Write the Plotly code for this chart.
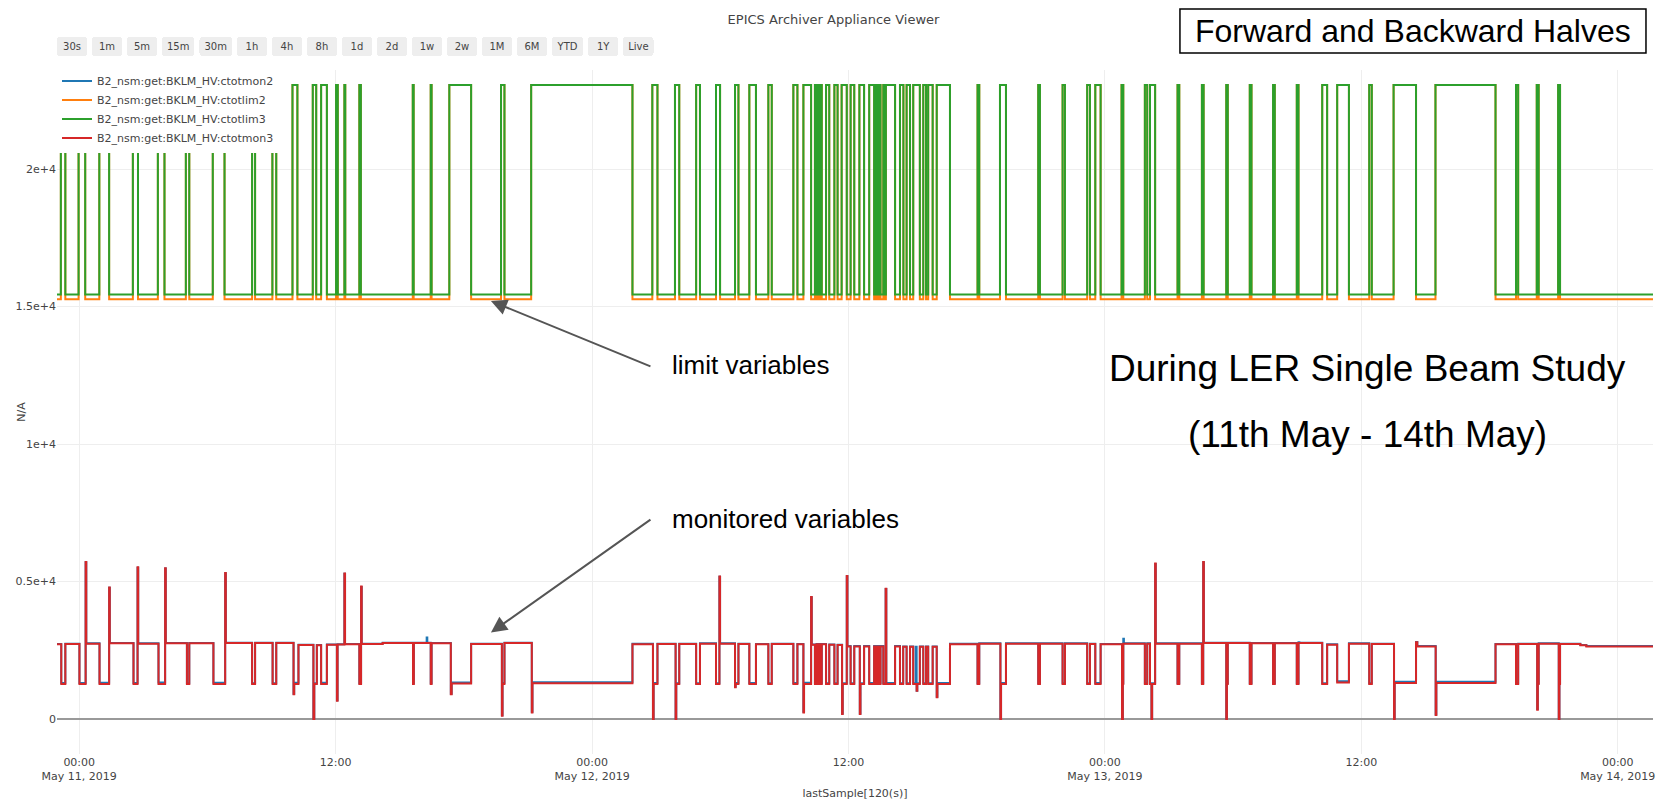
import pandas as pd
import plotly.graph_objects as go

BASE = pd.Timestamp("2019-05-11 00:00:00")

# ---------------- data (hours since 2019-05-11 00:00) ----------------
# limit variables: pulses (start, end, top value)
LIM_START = [-0.86, -0.03, 0.94, 2.51, 3.68, 4.99, 6.25, 8.09, 9.04,
             9.98, 10.93, 11.32, 12.02, 12.41, 13.11, 15.61, 16.45, 17.32, 19.74, 21.15,
             26.82, 27.88, 28.87, 29.80, 30.69, 31.36, 32.25, 33.42, 33.89, 34.43,
             34.56, 34.67, 34.95, 35.34, 35.68, 36.10, 36.51, 36.97, 37.24, 37.35,
             37.46, 37.63, 37.75, 38.41, 38.72, 39.03, 39.50, 39.73, 40.13, 42.04,
             43.09, 44.88, 46.02, 47.17, 47.55, 48.78, 49.87, 50.11, 51.40, 52.54,
             53.68, 54.78, 55.87, 56.98, 58.17, 58.87, 60.37, 61.51, 63.47, 67.24,
             68.21, 69.21]
LIM_END = [-0.65, 0.28, 1.40, 2.75, 3.99, 5.15, 6.80, 8.23, 9.22,
           10.21, 11.09, 11.59, 12.10, 12.45, 13.18, 15.65, 16.49, 18.34, 19.90, 25.89,
           27.06, 28.08, 29.05, 29.99, 30.85, 31.67, 32.41, 33.61, 34.25, 34.51,
           34.63, 34.75, 35.10, 35.49, 35.92, 36.27, 36.73, 37.20, 37.28, 37.39,
           37.50, 37.71, 38.18, 38.57, 38.88, 39.34, 39.63, 39.94, 40.75, 42.12,
           43.37, 44.96, 46.13, 47.30, 47.80, 48.86, 49.98, 50.35, 51.48, 52.62,
           53.75, 54.86, 55.95, 57.06, 58.40, 59.42, 60.49, 62.56, 66.28, 67.34,
           68.30, 69.30]
LIM_TOP = [20760] * 9 + [23050] * 63
LIM3_LOW = 15435
LIM2_LOW = 15265

# monitored variables: step points
MON_T = [-1.04, -0.84, -0.65, 0.01, 0.30, 0.33, 0.95, 1.40, 1.43, 2.54,
         2.73, 2.76, 3.71, 4.02, 4.05, 5.04, 5.15, 6.28, 6.83, 6.86,
         8.09, 8.23, 9.05, 9.22, 10.03, 10.06, 10.26, 10.96, 11.00, 11.12,
         11.32, 11.59, 12.06, 12.09, 12.41, 12.44, 13.11, 13.19, 13.22, 14.20,
         15.62, 15.66, 16.26, 16.29, 16.45, 16.49, 17.39, 17.43, 18.34, 19.78,
         19.81, 19.90, 21.18, 21.21, 25.89, 26.85, 26.88, 27.06, 27.91, 27.94,
         28.08, 28.87, 29.05, 29.80, 29.96, 29.99, 30.69, 30.72, 30.85, 31.36,
         31.67, 32.25, 32.41, 33.42, 33.61, 33.89, 33.92, 34.25, 34.28, 34.43,
         34.51, 34.56, 34.63, 34.67, 34.75, 34.95, 35.10, 35.34, 35.49, 35.70,
         35.73, 35.92, 35.95, 36.10, 36.27, 36.53, 36.56, 36.73, 36.97, 37.20,
         37.24, 37.28, 37.35, 37.39, 37.46, 37.50, 37.63, 37.74, 37.77, 38.18,
         38.41, 38.56, 38.72, 38.88, 39.03, 39.15, 39.19, 39.22, 39.34, 39.50,
         39.63, 39.73, 39.94, 40.13, 40.16, 40.75, 42.04, 42.12, 43.11, 43.14,
         43.37, 44.88, 44.96, 46.02, 46.13, 47.17, 47.30, 47.55, 47.80, 48.80,
         48.84, 48.86, 48.89, 49.87, 49.98, 50.11, 50.18, 50.21, 50.35, 50.38,
         51.40, 51.48, 52.54, 52.60, 52.63, 53.68, 53.71, 53.75, 54.78, 54.86,
         55.87, 55.95, 56.98, 57.06, 57.10, 58.17, 58.40, 58.87, 59.42, 60.37,
         60.49, 61.53, 61.56, 62.56, 62.62, 63.48, 63.51, 66.28, 67.24, 67.34,
         68.23, 68.26, 68.30, 69.24, 69.27, 69.30, 70.00, 70.25, 70.53, 73.65]
MON3_V = [2720, 1270, 2730, 1270, 5710, 2740, 1270, 4780, 2750, 1270,
          5520, 2740, 1270, 5480, 2750, 1270, 2750, 1270, 5310, 2760,
          1270, 2760, 1270, 2760, 900, 1270, 2690, 0, 1270, 2680,
          1270, 2700, 660, 2710, 5290, 2720, 1270, 4820, 2730, 2760,
          1270, 2760, 2760, 2760, 1270, 2750, 900, 1290, 2730, 120,
          1270, 2760, 240, 1300, 2720, 0, 1270, 2730, 0, 1270,
          2730, 1270, 2740, 1270, 5180, 2740, 1150, 1270, 2730, 1270,
          2720, 1270, 2730, 1270, 2720, 240, 1270, 4440, 2700, 1270,
          2720, 1270, 2720, 1270, 2720, 1270, 2700, 1270, 2690, 180,
          1270, 5200, 2640, 1270, 2640, 180, 1270, 2640, 1270, 2640,
          1270, 2640, 1270, 2640, 1270, 2640, 1270, 4740, 1270, 2640,
          1270, 2630, 1270, 2630, 1270, 1270, 1030, 1270, 2630, 1270,
          2630, 1270, 2630, 790, 1270, 2720, 1270, 2740, 0, 1270,
          2740, 1270, 2740, 1270, 2740, 1270, 2730, 1270, 2720, 0,
          1270, 2740, 2740, 1270, 2740, 1270, 0, 1270, 5650, 2740,
          1270, 2740, 1270, 5710, 2760, 0, 1270, 2760, 1270, 2750,
          1270, 2750, 1270, 2760, 2760, 1270, 2700, 1330, 2740, 1270,
          2730, 0, 1310, 2790, 2640, 145, 1310, 2720, 1270, 2730,
          340, 1270, 2740, 0, 1270, 2730, 2730, 2680, 2640, 2640]
MON2_V = [2730, 1310, 2740, 1310, 5700, 2750, 1320, 4770, 2760, 1310,
          5500, 2750, 1330, 5470, 2760, 1300, 2760, 1320, 5300, 2770,
          1300, 2770, 1300, 2770, 920, 1320, 2700, 20, 1300, 2690,
          1320, 2710, 680, 2720, 5280, 2730, 1300, 4800, 2740, 2770,
          1300, 2770, 2960, 2770, 1300, 2760, 920, 1330, 2740, 140,
          1310, 2770, 260, 1340, 2740, 0, 1310, 2740, 20, 1300,
          2740, 1300, 2750, 1300, 5170, 2750, 1170, 1310, 2740, 1310,
          2730, 1300, 2740, 1310, 2730, 260, 1320, 4430, 2710, 1300,
          2730, 1300, 2730, 1300, 2730, 1300, 2710, 1300, 2700, 200,
          1300, 5190, 2650, 1300, 2650, 200, 1300, 2650, 1310, 2650,
          1300, 2650, 1300, 2650, 1300, 2650, 1300, 4730, 1310, 2650,
          1300, 2640, 1300, 2640, 1300, 2630, 1030, 1300, 2640, 1300,
          2640, 1300, 2640, 810, 1310, 2740, 1300, 2750, 20, 1310,
          2750, 1300, 2750, 1300, 2750, 1300, 2740, 1310, 2730, 0,
          1300, 2920, 2750, 1300, 2750, 1300, 20, 1300, 5640, 2750,
          1300, 2750, 1300, 5700, 2770, 20, 1300, 2770, 1300, 2760,
          1300, 2760, 1300, 2790, 2770, 1300, 2720, 1370, 2750, 1300,
          2740, 20, 1350, 2800, 2650, 165, 1350, 2730, 1300, 2740,
          360, 1300, 2750, 20, 1300, 2740, 2740, 2690, 2650, 2650]

NAMES = ["B2_nsm:get:BKLM_HV:ctotmon2", "B2_nsm:get:BKLM_HV:ctotlim2",
         "B2_nsm:get:BKLM_HV:ctotlim3", "B2_nsm:get:BKLM_HV:ctotmon3"]
COLORS = ["#1f77b4", "#ff7f0e", "#2ca02c", "#d62728"]
BUTTONS = [("30s", 30, "second"), ("1m", 1, "minute"), ("5m", 5, "minute"),
           ("15m", 15, "minute"), ("30m", 30, "minute"), ("1h", 1, "hour"),
           ("4h", 4, "hour"), ("8h", 8, "hour"), ("1d", 1, "day"), ("2d", 2, "day"),
           ("1w", 7, "day"), ("2w", 14, "day"), ("1M", 1, "month"), ("6M", 6, "month"),
           ("YTD", 1, "year"), ("1Y", 1, "year"), ("Live", 1, "all")]


def to_time(hours):
    return [(BASE + pd.Timedelta(hours=h)).strftime("%Y-%m-%d %H:%M:%S") for h in hours]


def limit_series(low):
    hs, vs = [MON_T[0]], [low]
    for s, e, top in zip(LIM_START, LIM_END, LIM_TOP):
        hs += [s, e]
        vs += [top, low]
    hs.append(MON_T[-1])
    vs.append(low)
    return to_time(hs), vs


lim2_x, lim2_y = limit_series(LIM2_LOW)
lim3_x, lim3_y = limit_series(LIM3_LOW)
mon_x = to_time(MON_T)

FONT = "DejaVu Sans, Verdana, sans-serif"
fig = go.Figure()
series = [(mon_x, MON2_V), (lim2_x, lim2_y), (lim3_x, lim3_y), (mon_x, MON3_V)]
for (xs, ys), name, col in zip(series, NAMES, COLORS):
    fig.add_trace(go.Scatter(x=xs, y=ys, mode="lines", name=name,
                             line=dict(color=col, width=2, shape="hv")))

buttons = []
for label, count, step in BUTTONS:
    if step == "all":
        buttons.append(dict(label=label, step="all"))
    elif label == "YTD":
        buttons.append(dict(label=label, count=count, step=step, stepmode="todate"))
    else:
        buttons.append(dict(label=label, count=count, step=step, stepmode="backward"))

fig.update_layout(
    width=1667, height=804,
    template="none",
    paper_bgcolor="white", plot_bgcolor="white",
    font=dict(family=FONT, size=11, color="#444"),
    margin=dict(l=57, r=14, t=70, b=50),
    title=dict(text="EPICS Archiver Appliance Viewer", x=0.5, xanchor="center",
               y=1 - 19 / 804, yanchor="middle", font=dict(size=13, color="#444")),
    showlegend=True,
    legend=dict(x=0, y=1.005, xanchor="left", yanchor="top", bgcolor="white",
                font=dict(size=11, color="#444")),
    xaxis=dict(
        type="date",
        range=[mon_x[0], mon_x[-1]],
        dtick=12 * 3600 * 1000, tick0="2019-05-11",
        showgrid=True, gridcolor="#eee", gridwidth=1,
        zeroline=False, showline=False, ticks="",
        title=dict(text="lastSample[120(s)]", font=dict(size=11, color="#444")),
        rangeselector=dict(buttons=buttons, x=0, xanchor="left", y=1.02, yanchor="bottom",
                           bgcolor="#eee", font=dict(size=10, color="#444")),
    ),
    yaxis=dict(
        range=[-1273, 23600],
        dtick=5000, tick0=0,
        exponentformat="e",
        showgrid=True, gridcolor="#eee", gridwidth=1,
        zeroline=True, zerolinecolor="#999", zerolinewidth=2,
        showline=False, ticks="",
        title=dict(text="N/A", font=dict(size=11, color="#444")),
    ),
)

ANN_FONT = "Liberation Sans, Arial, sans-serif"
fig.add_shape(type="rect", xref="paper", yref="paper", x0=0.7036, x1=0.9956,
              y0=1.0249, y1=1.089, line=dict(color="black", width=1.5),
              fillcolor="white", layer="above")
fig.add_annotation(text="Forward and Backward Halves", xref="paper", yref="paper",
                   x=0.8496, y=1.057, xanchor="center", yanchor="middle", showarrow=False,
                   font=dict(family=ANN_FONT, size=32, color="black"))
fig.add_annotation(text="During LER Single Beam Study", xref="paper", yref="paper",
                   x=0.8214, y=0.5629, xanchor="center", yanchor="middle", showarrow=False,
                   font=dict(family=ANN_FONT, size=37, color="black"))
fig.add_annotation(text="(11th May - 14th May)", xref="paper", yref="paper",
                   x=0.8214, y=0.4664, xanchor="center", yanchor="middle", showarrow=False,
                   font=dict(family=ANN_FONT, size=37, color="black"))
fig.add_annotation(text="limit variables", xref="paper", yref="paper",
                   x=0.3841, y=0.5687, xanchor="left", yanchor="middle", showarrow=False,
                   font=dict(family=ANN_FONT, size=26, color="black"))
fig.add_annotation(text="monitored variables", xref="paper", yref="paper",
                   x=0.3841, y=0.3436, xanchor="left", yanchor="middle", showarrow=False,
                   font=dict(family=ANN_FONT, size=26, color="black"))
for yv, ay in [(0.6623, 66), (0.1776, -114)]:
    fig.add_annotation(text="", xref="paper", yref="paper", x=0.2719, y=yv,
                       ax=161, ay=ay, axref="pixel", ayref="pixel",
                       showarrow=True, arrowhead=2, arrowsize=1.6, arrowwidth=2,
                       arrowcolor="#555")

fig.write_html("out.html")
